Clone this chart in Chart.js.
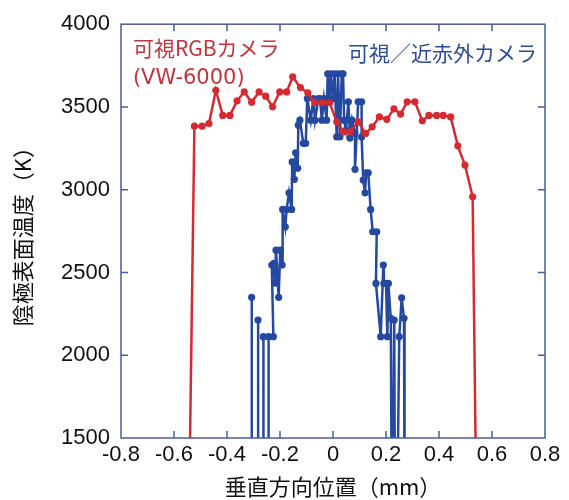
<!DOCTYPE html>
<html>
<head>
<meta charset="utf-8">
<script src="https://cdn.jsdelivr.net/npm/chart.js@4"></script>
<style>
  body { margin: 0; background: #ffffff; }
  #wrap { width: 569px; height: 500px; }
</style>
</head>
<body>
<div id="wrap"><canvas id="tempChart" width="569" height="500"></canvas></div>
<script>
// Cathode surface temperature vs vertical position

// axis ticks
const xTickValues = [-0.8, -0.6, -0.4, -0.2, 0, 0.2, 0.4, 0.6, 0.8];
const yTickValues = [1500, 2000, 2500, 3000, 3500, 4000];

// visible RGB camera (VW-6000)
const rgbX = [-0.542, -0.523, -0.494, -0.468, -0.442, -0.416, -0.389, -0.362, -0.335, -0.307,
  -0.279, -0.254, -0.228, -0.201, -0.175, -0.152, -0.123, -0.095, -0.068, -0.040,
  -0.013, 0.014, 0.039, 0.064, 0.095, 0.123, 0.148, 0.175, 0.203, 0.230,
  0.255, 0.280, 0.309, 0.337, 0.362, 0.391, 0.416, 0.444, 0.471, 0.498,
  0.527, 0.540];
const rgbY = [1200, 3384, 3384, 3400, 3601, 3449, 3449, 3537, 3591, 3529,
  3591, 3565, 3501, 3591, 3591, 3682, 3617, 3585, 3526, 3526,
  3526, 3410, 3350, 3350, 3410, 3340, 3380, 3440, 3425, 3489,
  3457, 3531, 3531, 3416, 3449, 3449, 3449, 3440, 3265, 3149,
  2957, 1200];

// visible / near infrared camera
const nirX = [-0.307, -0.307, -0.306, -0.283, -0.283, -0.282, -0.263, -0.263, -0.262, -0.243,
  -0.243, -0.225, -0.231, -0.223, -0.219, -0.215, -0.205, -0.199, -0.192, -0.190,
  -0.180, -0.175, -0.166, -0.156, -0.154, -0.146, -0.141, -0.133, -0.131, -0.125,
  -0.112, -0.103, -0.097, -0.084, -0.074, -0.068, -0.055, -0.049, -0.042, -0.034,
  -0.024, -0.020, -0.013, -0.008, 0.000, 0.006, 0.014, 0.019, 0.026, 0.033,
  0.038, 0.042, 0.049, 0.058, 0.064, 0.072, 0.083, 0.083, 0.095, 0.108,
  0.108, 0.114, 0.121, 0.125, 0.133, 0.142, 0.150, 0.165, 0.162, 0.180,
  0.190, 0.192, 0.200, 0.205, 0.209, 0.218, 0.222, 0.225, 0.231, 0.234,
  0.242, 0.250, 0.259, 0.268, 0.270];
const nirY = [1000, 2350, 1000, 1000, 2213, 1000, 1000, 2112, 1000, 1000,
  2112, 2112, 2545, 2555, 2436, 2635, 2350, 2635, 2545, 2881,
  2776, 2881, 2981, 2881, 3168, 3062, 3223, 3129, 3390, 3420,
  3280, 3280, 3551, 3420, 3551, 3420, 3551, 3551, 3420, 3551,
  3420, 3700, 3550, 3700, 3550, 3700, 3319, 3700, 3319, 3700,
  3700, 3420, 3360, 3531, 3312, 3420, 3342, 3123, 3531, 3531,
  3319, 3058, 2981, 3102, 3102, 2881, 2746, 2746, 2434, 2112,
  2545, 2434, 2434, 2112, 2434, 2223, 1000, 1000, 2213, 1000,
  1000, 2112, 2347, 2223, 1000];

const redColor = "#d62a30";
const blueColor = "#2549a0";
const frameColor = "#4a5c9c";
const jpFont = "'Noto Sans CJK JP', 'Noto Sans', sans-serif";
const numFont = "'Liberation Sans', Arial, sans-serif";

function toPoints(xs, ys) {
    return xs.map((x, i) => ({ x: x, y: ys[i] }));
}

// Frame + inward ticks on all four sides
const framePlugin = {
    id: "frame",
    afterDraw(chart) {
        const { ctx, chartArea: a, scales } = chart;
        const len = 7;
        ctx.save();
        ctx.strokeStyle = frameColor;
        ctx.lineWidth = 1.5;
        ctx.beginPath();
        xTickValues.forEach(v => {
            const px = scales.x.getPixelForValue(v);
            if (px <= a.left + 1 || px >= a.right - 1) return;
            ctx.moveTo(px, a.bottom); ctx.lineTo(px, a.bottom - len);
            ctx.moveTo(px, a.top); ctx.lineTo(px, a.top + len);
        });
        yTickValues.forEach(v => {
            const py = scales.y.getPixelForValue(v);
            if (py <= a.top + 1 || py >= a.bottom - 1) return;
            ctx.moveTo(a.left, py); ctx.lineTo(a.left + len, py);
            ctx.moveTo(a.right, py); ctx.lineTo(a.right - len, py);
        });
        ctx.stroke();
        ctx.strokeRect(a.left, a.top, a.right - a.left, a.bottom - a.top);
        ctx.restore();
    }
};

// Series labels inside the plot
const labelPlugin = {
    id: "seriesLabels",
    afterDraw(chart) {
        const { ctx, scales } = chart;
        ctx.save();
        ctx.textBaseline = "middle";
        ctx.fillStyle = "#c2363b";
        ctx.textAlign = "left";
        ctx.font = "21px " + jpFont;
        ctx.fillText("可視RGBカメラ", scales.x.getPixelForValue(-0.755), scales.y.getPixelForValue(3858));
        ctx.font = "21px 'DejaVu Sans', sans-serif";
        ctx.fillText("(VW-6000)", scales.x.getPixelForValue(-0.755), scales.y.getPixelForValue(3670));
        ctx.fillStyle = "#2e4b96";
        ctx.textAlign = "right";
        ctx.font = "21px " + jpFont;
        ctx.fillText("可視／近赤外カメラ", scales.x.getPixelForValue(0.770), scales.y.getPixelForValue(3827));
        ctx.restore();
    }
};

function drawChart() {
    const ctx = document.getElementById("tempChart").getContext("2d");
    new Chart(ctx, {
        type: "scatter",
        data: {
            datasets: [
                {
                    label: "可視RGBカメラ (VW-6000)",
                    data: toPoints(rgbX, rgbY),
                    showLine: true,
                    borderColor: redColor,
                    backgroundColor: redColor,
                    borderWidth: 2.5,
                    pointRadius: 3.6,
                    pointBorderWidth: 0,
                    tension: 0
                },
                {
                    label: "可視／近赤外カメラ",
                    data: toPoints(nirX, nirY),
                    showLine: true,
                    borderColor: blueColor,
                    backgroundColor: blueColor,
                    borderWidth: 2.5,
                    pointRadius: 3.6,
                    pointBorderWidth: 0,
                    tension: 0
                }
            ]
        },
        options: {
            responsive: false,
            animation: false,
            devicePixelRatio: 1,
            layout: { padding: { top: 24, right: 24, left: 0, bottom: 0 } },
            plugins: {
                legend: { display: false },
                tooltip: { enabled: false }
            },
            scales: {
                x: {
                    type: "linear",
                    min: -0.8,
                    max: 0.8,
                    afterBuildTicks: s => { s.ticks = xTickValues.map(v => ({ value: v })); },
                    afterFit: s => { s.height = 62; },
                    grid: { display: false, drawTicks: false },
                    border: { display: false },
                    ticks: {
                        color: "#111111",
                        padding: 4,
                        maxRotation: 0,
                        font: { family: numFont, size: 22 },
                        callback: v => Math.abs(v) < 1e-9 ? "0" : v.toFixed(1)
                    },
                    title: {
                        display: true,
                        text: "垂直方向位置（mm）",
                        color: "#111111",
                        font: { family: jpFont, size: 22, lineHeight: 1.2 },
                        padding: { top: 0, bottom: 0 }
                    }
                },
                y: {
                    type: "linear",
                    min: 1500,
                    max: 4000,
                    afterBuildTicks: s => { s.ticks = yTickValues.map(v => ({ value: v })); },
                    afterFit: s => { s.width = 121; },
                    grid: { display: false, drawTicks: false },
                    border: { display: false },
                    ticks: {
                        color: "#111111",
                        padding: 11,
                        font: { family: numFont, size: 22 },
                        callback: v => String(v)
                    },
                    title: {
                        display: true,
                        text: "陰極表面温度（K）",
                        color: "#111111",
                        font: { family: jpFont, size: 22, lineHeight: 1.2 },
                        padding: { top: 9, bottom: 0 }
                    }
                }
            }
        },
        plugins: [framePlugin, labelPlugin]
    });
}

drawChart();
</script>
</body>
</html>
